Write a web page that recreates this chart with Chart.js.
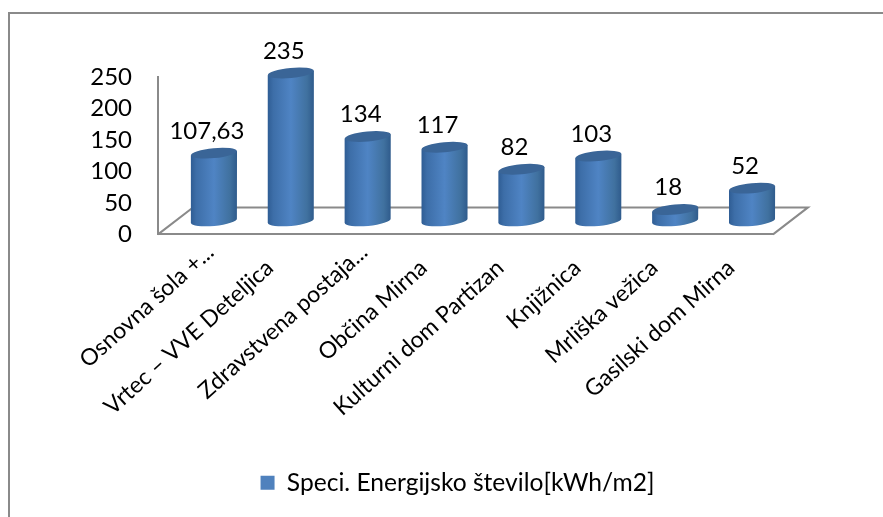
<!DOCTYPE html>
<html>
<head>
<meta charset="utf-8">
<style>
    html, body { margin: 0; padding: 0; background: #fff; }
    #wrap { position: relative; width: 883px; height: 517px; overflow: hidden; }
    #frame { position: absolute; left: 8px; top: 12px; right: 0; bottom: 0; border-left: 2px solid #8a8a8a; border-top: 2px solid #8a8a8a; }
    canvas { position: absolute; left: 0; top: 0; }
</style>
<script src="https://cdn.jsdelivr.net/npm/chart.js@4/dist/chart.umd.min.js"></script>
</head>
<body>
<div id="wrap">
    <div id="frame"></div>
    <canvas id="chart" width="883" height="517"></canvas>
</div>
<script>
const categories = ['Osnovna šola +...', 'Vrtec – VVE Deteljica', 'Zdravstvena postaja...', 'Občina Mirna',
    'Kulturni dom Partizan', 'Knjižnica', 'Mrliška vežica', 'Gasilski dom Mirna'];
const energyValues = [107.63, 235, 134, 117, 82, 103, 18, 52];
const yTicks = [0, 50, 100, 150, 200, 250];
const seriesName = 'Speci. Energijsko število[kWh/m2]';

const FONT = 'Lato, Carlito, Calibri, sans-serif';
const AXIS_GREY = '#8a8a8a';
// Floor depth of the fake 3D box
const DEPTH_X = 35;
const DEPTH_Y = 27;
const CYL_RY = 5;
const CYL_TILT = -5.5 * Math.PI / 180;
// Legend sits right of the plot centre
const LEGEND_SHIFT = 41;

// Bar element drawn as a tilted cylinder, standing halfway back on the floor
class CylinderElement extends Chart.BarElement {
    draw(ctx) {
        const { x, y, base, width } = this.getProps(['x', 'y', 'base', 'width']);
        const cx = x + DEPTH_X / 2;
        const topY = y - DEPTH_Y / 2;
        const baseY = base - DEPTH_Y / 2;
        const rx = width / 2;
        const dy = rx * Math.sin(CYL_TILT);

        const body = ctx.createLinearGradient(cx - rx, 0, cx + rx, 0);
        body.addColorStop(0, '#2f5d94');
        body.addColorStop(0.12, '#3d6ea8');
        body.addColorStop(0.5, '#4f84c4');
        body.addColorStop(0.85, '#40719f');
        body.addColorStop(1, '#2f5b8c');

        ctx.save();
        ctx.fillStyle = body;
        ctx.beginPath();
        ctx.moveTo(cx - rx, topY - dy);
        ctx.lineTo(cx - rx, baseY - dy);
        ctx.ellipse(cx, baseY, rx, CYL_RY, CYL_TILT, Math.PI, 0, true);
        ctx.lineTo(cx + rx, topY + dy);
        ctx.closePath();
        ctx.fill();

        ctx.fillStyle = '#3a6597';
        ctx.beginPath();
        ctx.ellipse(cx, topY, rx, CYL_RY, CYL_TILT, 0, Math.PI * 2);
        ctx.fill();
        ctx.restore();
    }
}
CylinderElement.id = 'cylinderBar';
CylinderElement.defaults = Chart.BarElement.defaults;
CylinderElement.defaultRoutes = Chart.BarElement.defaultRoutes;

class CylinderController extends Chart.BarController {}
CylinderController.id = 'cylinder';
CylinderController.defaults = { ...Chart.BarController.defaults, dataElementType: 'cylinderBar' };
CylinderController.overrides = Chart.BarController.overrides;

Chart.register(CylinderElement, CylinderController);

// Floor outline behind the cylinders
const floorPlugin = {
    id: 'floor',
    afterLayout(chart) {
        chart.legend.left += LEGEND_SHIFT;
        chart.legend.right += LEGEND_SHIFT;
    },
    beforeDatasetsDraw(chart) {
        const { left, right, bottom } = chart.chartArea;
        const { ctx } = chart;
        ctx.save();
        ctx.strokeStyle = AXIS_GREY;
        ctx.lineWidth = 2;
        ctx.beginPath();
        ctx.moveTo(left, bottom);
        ctx.lineTo(left + DEPTH_X, bottom - DEPTH_Y);
        ctx.lineTo(right + DEPTH_X, bottom - DEPTH_Y);
        ctx.lineTo(right, bottom);
        ctx.stroke();
        ctx.restore();
    }
};

// Value labels over each cylinder
const valueLabels = {
    id: 'valueLabels',
    afterDatasetsDraw(chart) {
        const { ctx } = chart;
        const bars = chart.getDatasetMeta(0).data;
        ctx.save();
        ctx.font = '24px ' + FONT;
        ctx.fillStyle = '#000';
        ctx.textAlign = 'center';
        ctx.textBaseline = 'middle';
        bars.forEach((bar, i) => {
            const label = String(energyValues[i]).replace('.', ',');
            ctx.fillText(label, bar.x + DEPTH_X / 2 - 7, bar.y - DEPTH_Y / 2 - 22);
        });
        ctx.restore();
    }
};

new Chart(document.getElementById('chart'), {
    type: 'cylinder',
    data: {
        labels: categories,
        datasets: [{
            label: seriesName,
            data: energyValues,
            backgroundColor: '#4f81bd',
            barPercentage: 1,
            categoryPercentage: 0.6,
            clip: false
        }]
    },
    options: {
        responsive: false,
        animation: false,
        layout: { padding: { left: 60, right: 110, top: 77, bottom: 12 } },
        plugins: {
            tooltip: { enabled: false },
            legend: {
                position: 'bottom',
                labels: {
                    boxWidth: 14,
                    boxHeight: 14,
                    color: '#000',
                    font: { family: FONT, size: 24.6 }
                }
            }
        },
        scales: {
            x: {
                grid: { display: false, drawTicks: false },
                border: { color: AXIS_GREY, width: 2 },
                afterFit: scale => { scale.height = 226; },
                ticks: {
                    autoSkip: false,
                    minRotation: 42,
                    maxRotation: 42,
                    padding: 4,
                    labelOffset: 14,
                    color: '#000',
                    font: { family: FONT, size: 23 },
                    // Full names sit a little further back along the slant than shortened ones
                    callback(value) {
                        const name = categories[value];
                        return name.endsWith('...') ? name : name + '\u00a0\u00a0\u00a0\u00a0';
                    }
                }
            },
            y: {
                min: 0,
                max: 250,
                grid: { display: false, drawTicks: false },
                border: { color: AXIS_GREY, width: 2 },
                afterFit: scale => { scale.width = 98; },
                afterBuildTicks: scale => { scale.ticks = yTicks.map(value => ({ value })); },
                ticks: {
                    autoSkip: false,
                    padding: 26,
                    color: '#000',
                    font: { family: FONT, size: 24 }
                }
            }
        }
    },
    plugins: [floorPlugin, valueLabels]
});
</script>
</body>
</html>
